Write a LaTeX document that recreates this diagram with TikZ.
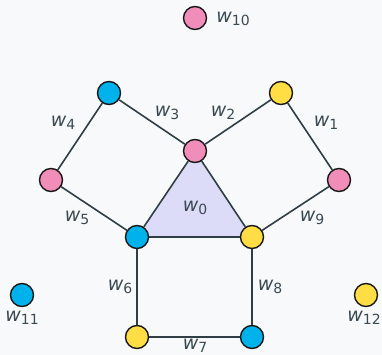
\documentclass[tikz,border=0pt]{standalone}
\usepackage{fontspec}
\setmainfont{DejaVu Sans}
\usetikzlibrary{backgrounds}
\definecolor{bgc}{HTML}{F8F9FA}
\definecolor{edgec}{HTML}{2F3E44}
\definecolor{txtc}{HTML}{3A4A52}
\definecolor{pinkc}{HTML}{F08DB9}
\definecolor{bluec}{HTML}{00B2EB}
\definecolor{yellowc}{HTML}{FFDD44}
\definecolor{facec}{HTML}{DCDCF8}
\newcommand{\wlab}[1]{{\fontsize{19}{19}\selectfont\itshape w}\raisebox{-3.5pt}{\fontsize{14}{14}\selectfont #1}}
\tikzset{
  vtx/.style={circle, draw=black!90, line width=1.4pt, minimum size=23pt, inner sep=0pt},
  pinkv/.style={vtx, fill=pinkc},
  bluev/.style={vtx, fill=bluec},
  yellowv/.style={vtx, fill=yellowc},
  edge/.style={draw=edgec, line width=1.6pt},
  wl/.style={text=txtc, inner sep=0pt, anchor=center}
}
\begin{document}
\begin{tikzpicture}[x=1pt,y=-1pt]
\useasboundingbox (0,0) rectangle (382,355);
% vertices
\node[pinkv]   (p10) at (195,18)  {};
\node[bluev]   (btl) at (109,93)  {};
\node[yellowv] (ytr) at (281,93)  {};
\node[pinkv]   (pc)  at (195,151) {};
\node[pinkv]   (pl)  at (51,180)  {};
\node[pinkv]   (pr)  at (339,180) {};
\node[bluev]   (bs)  at (137,237) {};
\node[yellowv] (ys)  at (252,237) {};
\node[yellowv] (ybl) at (137,337) {};
\node[bluev]   (bbr) at (252,337) {};
\node[bluev]   (b11) at (22,295)  {};
\node[yellowv] (y12) at (366,295) {};
% page, face and edges behind the vertices
\begin{scope}[on background layer]
  \fill[bgc] (0,0) rectangle (382,355);
  \fill[facec] (pc.center) -- (bs.center) -- (ys.center) -- cycle;
  \draw[edge] (btl) -- (pc);
  \draw[edge] (ytr) -- (pc);
  \draw[edge] (btl) -- (pl);
  \draw[edge] (ytr) -- (pr);
  \draw[edge] (pl) -- (bs);
  \draw[edge] (pr) -- (ys);
  \draw[edge] (pc) -- (bs);
  \draw[edge] (pc) -- (ys);
  \draw[edge] (bs) -- (ys);
  \draw[edge] (bs) -- (ybl);
  \draw[edge] (ys) -- (bbr);
  \draw[edge] (ybl) -- (bbr);
\end{scope}
% labels
\node[wl] (l0)  at (195,208) {\wlab{0}};
\node[wl] (l1)  at (326,123) {\wlab{1}};
\node[wl] (l2)  at (223,113) {\wlab{2}};
\node[wl] (l3)  at (167,113) {\wlab{3}};
\node[wl] (l4)  at (63,123)  {\wlab{4}};
\node[wl] (l5)  at (77,218)  {\wlab{5}};
\node[wl] (l6)  at (120,287) {\wlab{6}};
\node[wl] (l7)  at (195,346) {\wlab{7}};
\node[wl] (l8)  at (270,287) {\wlab{8}};
\node[wl] (l9)  at (312,218) {\wlab{9}};
\node[wl] (l10) at (233,19)  {\wlab{10}};
\node[wl] (l11) at (22,318)  {\wlab{11}};
\node[wl] (l12) at (364,318) {\wlab{12}};
\end{tikzpicture}
\end{document}
